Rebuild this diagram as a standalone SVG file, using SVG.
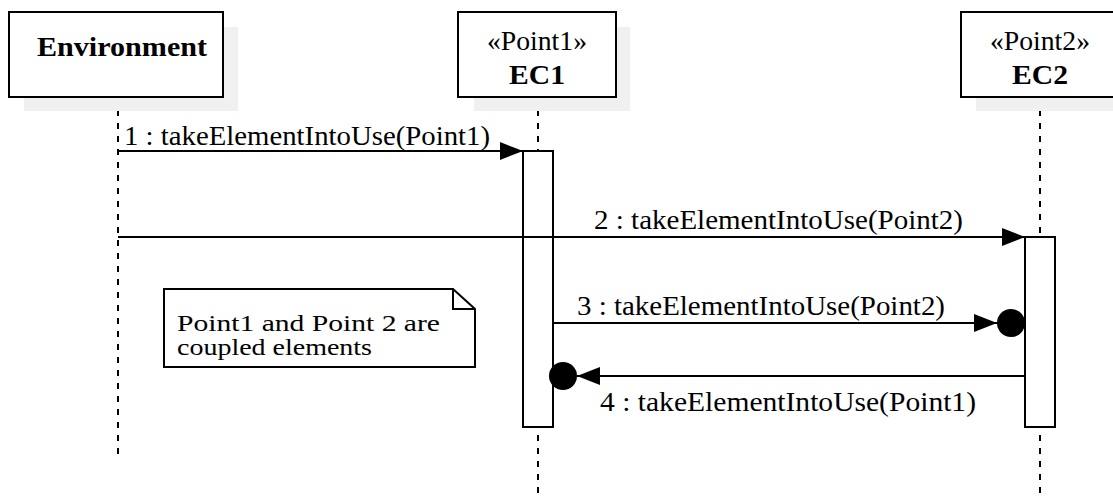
<svg xmlns="http://www.w3.org/2000/svg" width="1113" height="496" viewBox="0 0 1113 496">
  <defs>
    <style>
      .box { fill: #ffffff; stroke: #000000; stroke-width: 2; }
      .shadow { fill: #f0f0f0; stroke: none; }
      .life { stroke: #000000; stroke-width: 2; stroke-dasharray: 6 7; fill: none; }
      .msg { stroke: #000000; stroke-width: 2; fill: none; }
      .act { fill: #ffffff; stroke: #000000; stroke-width: 2; }
      .t { font-family: 'Liberation Serif', 'DejaVu Serif', 'Times New Roman', serif; font-size: 27px; fill: #000000; }
      .n { font-size: 24px; }
      .b { font-weight: bold; }
      .dot { fill: #000000; }
    </style>
    <marker id="tri" markerWidth="23" markerHeight="18" refX="23" refY="9" orient="auto" markerUnits="userSpaceOnUse">
      <path d="M0,0 L23,9 L0,18 Z" fill="#000000"/>
    </marker>
  </defs>

  <rect width="1113" height="496" fill="#ffffff"/>

  <!-- lifelines -->
  <g id="lifelines">
    <line class="life" x1="118" y1="97" x2="118" y2="458"/>
    <line class="life" x1="538" y1="97" x2="538" y2="496"/>
    <line class="life" x1="1040" y1="97" x2="1040" y2="496"/>
  </g>

  <!-- participants -->
  <g id="environment">
    <rect class="shadow" x="24" y="27" width="214" height="84"/>
    <rect class="box" x="9" y="12" width="214" height="85"/>
    <text class="t b" x="37" y="56" textLength="170" lengthAdjust="spacingAndGlyphs">Environment</text>
  </g>

  <g id="ec1">
    <rect class="shadow" x="474" y="27" width="156" height="84"/>
    <rect class="box" x="458" y="12" width="158" height="85"/>
    <text class="t" x="537" y="50" text-anchor="middle" textLength="100" lengthAdjust="spacingAndGlyphs">«Point1»</text>
    <text class="t b" x="537" y="84" text-anchor="middle" textLength="56" lengthAdjust="spacingAndGlyphs">EC1</text>
  </g>

  <g id="ec2">
    <rect class="shadow" x="976" y="27" width="158" height="84"/>
    <rect class="box" x="961" y="12" width="158" height="85"/>
    <text class="t" x="1040" y="50" text-anchor="middle" textLength="100" lengthAdjust="spacingAndGlyphs">«Point2»</text>
    <text class="t b" x="1040" y="84" text-anchor="middle" textLength="56" lengthAdjust="spacingAndGlyphs">EC2</text>
  </g>

  <!-- execution bars -->
  <g id="activation-ec1">
    <rect class="act" x="523" y="151" width="30" height="276"/>
  </g>
  <g id="activation-ec2">
    <rect class="act" x="1025" y="237" width="30" height="190"/>
  </g>

  <!-- note -->
  <g id="note">
    <path class="box" d="M164,289 L453,289 L475,309 L475,367 L164,367 Z"/>
    <path class="msg" d="M453,289 L453,309 L475,309"/>
    <text class="t n" x="177" y="331" textLength="263" lengthAdjust="spacingAndGlyphs">Point1 and Point 2 are</text>
    <text class="t n" x="177" y="355" textLength="195" lengthAdjust="spacingAndGlyphs">coupled elements</text>
  </g>

  <!-- messages -->
  <g id="connectors">
    <line class="msg" x1="118" y1="151" x2="523" y2="151" marker-end="url(#tri)"/>
    <text class="t" x="124" y="145" textLength="366" lengthAdjust="spacingAndGlyphs">1 : takeElementIntoUse(Point1)</text>

    <line class="msg" x1="118" y1="237" x2="1025" y2="237" marker-end="url(#tri)"/>
    <text class="t" x="594" y="229" textLength="369" lengthAdjust="spacingAndGlyphs">2 : takeElementIntoUse(Point2)</text>

    <line class="msg" x1="553" y1="323" x2="997" y2="323" marker-end="url(#tri)"/>
    <circle class="dot" cx="1011" cy="323" r="14"/>
    <text class="t" x="577" y="315" textLength="368" lengthAdjust="spacingAndGlyphs">3 : takeElementIntoUse(Point2)</text>

    <line class="msg" x1="1025" y1="376" x2="577" y2="376" marker-end="url(#tri)"/>
    <circle class="dot" cx="563" cy="376" r="14"/>
    <text class="t" x="600" y="411" textLength="376" lengthAdjust="spacingAndGlyphs">4 : takeElementIntoUse(Point1)</text>
  </g>
</svg>
